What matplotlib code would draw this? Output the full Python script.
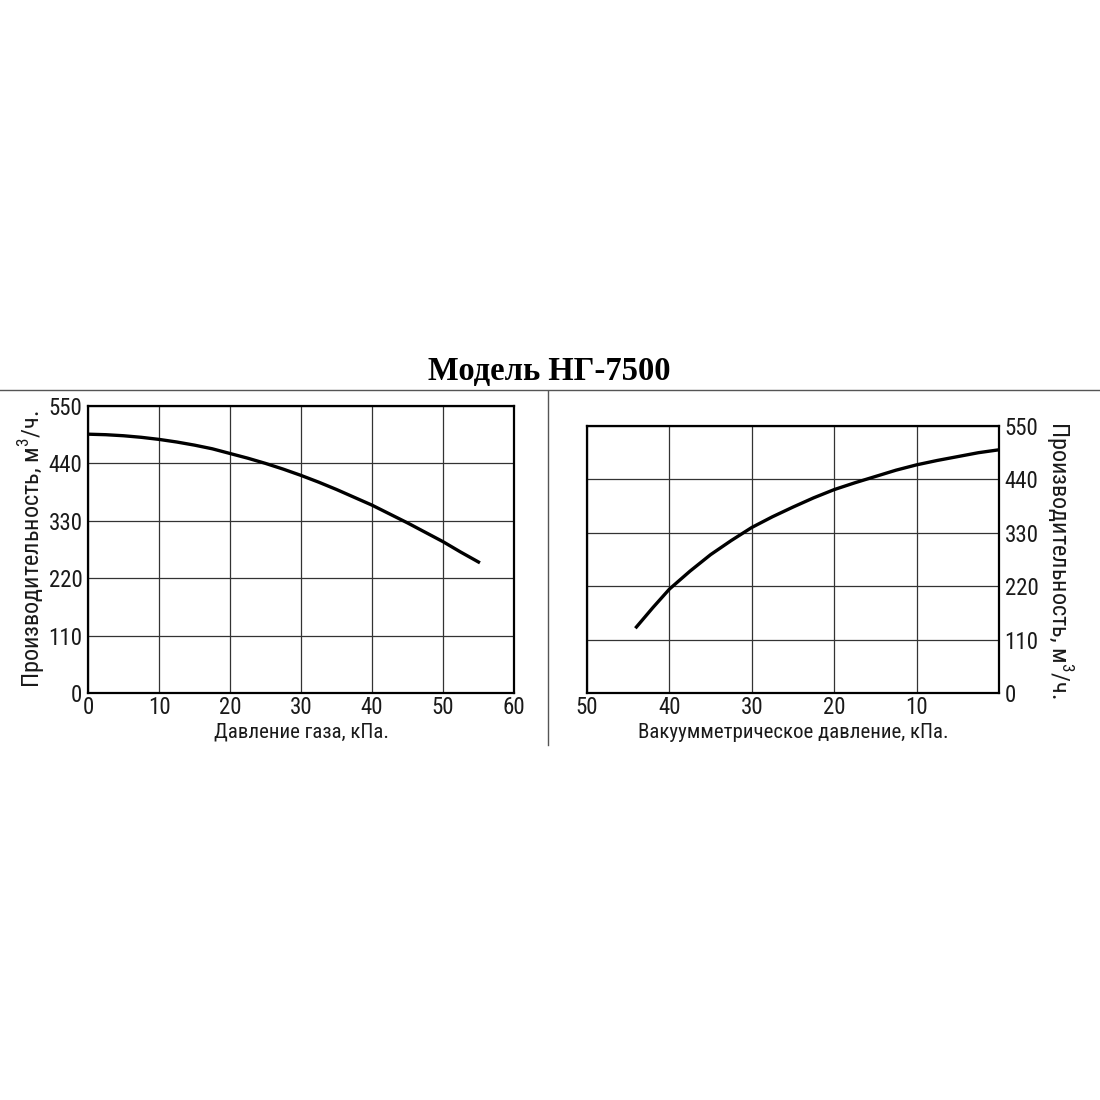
import matplotlib
matplotlib.use("Agg")
from matplotlib import pyplot as plt
from matplotlib.lines import Line2D

# --- данные ---
gas_pressure = [0, 2.5, 5, 7.5, 10, 12.5, 15, 17.5, 20, 22.5, 25, 27.5,
                30, 32.5, 35, 37.5, 40, 42.5, 45, 47.5, 50, 52.5, 55]
gas_flow = [496, 495, 493, 490, 486, 481, 475, 468, 459, 450, 440, 429,
            417, 404, 390, 375, 360, 343, 326, 308, 290, 270, 251]

vac_pressure = [44, 42, 40, 37.5, 35, 32.5, 30, 27.5, 25, 22.5, 20,
                17.5, 15, 12.5, 10, 7.5, 5, 2.5, 0]
vac_flow = [136, 176, 214, 251, 285, 314, 341, 363, 383, 402, 419,
            433, 446, 459, 470, 479, 487, 495, 501]

y_ticks = [0, 110, 220, 330, 440, 550]
left_x_ticks = [0, 10, 20, 30, 40, 50, 60]
right_x_ticks = [50, 40, 30, 20, 10]

title = "Модель НГ-7500"
ylabel = "Производительность, м$^3$/ч."

narrow = ["Liberation Sans Narrow", "Roboto Condensed", "PT Sans Narrow", "Liberation Sans"]
plt.rcParams["font.family"] = narrow
plt.rcParams["mathtext.fontset"] = "custom"
plt.rcParams["mathtext.rm"] = "Roboto Condensed"

W = H = 1100
fig = plt.figure(figsize=(11, 11), dpi=100)


def box(x0, y0, x1, y1):
    return [x0 / W, 1 - y1 / H, (x1 - x0) / W, (y1 - y0) / H]


def style(ax):
    ax.set_ylim(0, 550)
    ax.set_yticks(y_ticks)
    ax.grid(True, color="#333333", linewidth=0.9)
    ax.set_axisbelow(True)
    for s in ax.spines.values():
        s.set_linewidth(1.6)
        s.set_color("black")
    ax.tick_params(length=0, pad=4, labelsize=16.5, labelcolor="#1a1a1a")
    ax.tick_params(axis="x", pad=2)


# --- левый график ---
ax1 = fig.add_axes(box(88, 406, 514, 693))
ax1.plot(gas_pressure, gas_flow, color="black", linewidth=2.4)
ax1.set_xlim(0, 60)
ax1.set_xticks(left_x_ticks)
style(ax1)
ax1.set_xlabel("Давление газа, кПа.", fontsize=15, labelpad=3, color="#1a1a1a")
ax1.set_ylabel(ylabel, fontsize=17.5, labelpad=1, color="#1a1a1a")

# --- правый график ---
ax2 = fig.add_axes(box(587, 426, 999, 693))
ax2.plot(vac_pressure, vac_flow, color="black", linewidth=2.4)
ax2.set_xlim(50, 0)
ax2.set_xticks(right_x_ticks)
ax2.yaxis.tick_right()
ax2.yaxis.set_label_position("right")
style(ax2)
ax2.set_xlabel("Вакуумметрическое давление, кПа.", fontsize=15, labelpad=3, color="#1a1a1a")
ax2.set_ylabel(ylabel, fontsize=17.5, rotation=-90, labelpad=26, color="#1a1a1a")

fig.text(549 / W, 1 - 372 / H, title, ha="center", va="center",
         family="Liberation Serif", fontweight="bold", fontsize=23.5)

fig.add_artist(Line2D([0, 1], [1 - 390 / H] * 2, color="#555555", linewidth=1.0,
                      transform=fig.transFigure))
fig.add_artist(Line2D([548 / W] * 2, [1 - 391 / H, 1 - 745 / H], color="#555555",
                      linewidth=1.0, transform=fig.transFigure))

fig.savefig("out.png", dpi=100, facecolor="white")
